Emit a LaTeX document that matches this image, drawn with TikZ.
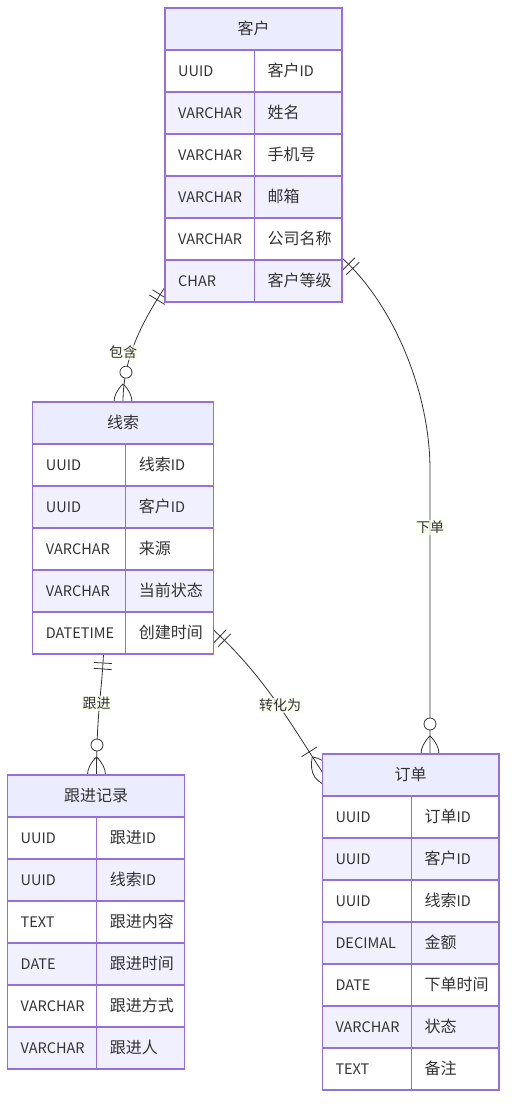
\documentclass[tikz,border=0pt]{standalone}
\usepackage{fontspec}
\setmainfont{Noto Sans CJK SC}
\usetikzlibrary{decorations.markings}

\definecolor{erborder}{HTML}{9370DB}
\definecolor{erhead}{HTML}{ECECFF}
\definecolor{errow}{HTML}{F1F0FF}
\definecolor{ertextc}{HTML}{333333}
\definecolor{relc}{HTML}{333333}
\definecolor{lblbg}{HTML}{F9FFEC}

\pgfdeclarelayer{bg}
\pgfsetlayers{bg,main}

% Latin runs are set a little smaller than the ideographs
\newcommand{\latn}[1]{{\fontsize{14.5pt}{17pt}\selectfont #1}}

\tikzset{
  ercell/.style={draw=erborder, line width=1.2pt},
  ertext/.style={inner sep=0pt, text=ertextc, font=\fontsize{16pt}{19pt}\selectfont},
  relline/.style={draw=relc, line width=0.8pt},
  rellabel/.style={inner sep=0.5pt, fill=lblbg, fill opacity=0.7, text opacity=1,
    text=ertextc, font=\fontsize{14pt}{17pt}\selectfont, text height=12.3pt, text depth=1.7pt},
  % exactly one: two bars near the start of the connector
  one start/.style={postaction={decorate, decoration={markings,
      mark=at position 9pt with {\draw[relline] (0pt,-9pt) -- (0pt,9pt);},
      mark=at position 15pt with {\draw[relline] (0pt,-9pt) -- (0pt,9pt);}}}},
  % zero or more: ring plus crow's foot at the end
  zero many end/.style={postaction={decorate, decoration={markings,
      mark=at position -30pt with {\draw[relline, fill=white] (0pt,0pt) circle [radius=6pt];},
      mark=at position -0.1pt with {\draw[relline] (-18pt,0pt) .. controls (-6pt,12pt) and (6pt,12pt) .. (18pt,0pt)
          .. controls (6pt,-12pt) and (-6pt,-12pt) .. (-18pt,0pt);}}}},
  % one or more: bar plus crow's foot at the end
  one many end/.style={postaction={decorate, decoration={markings,
      mark=at position -24pt with {\draw[relline] (0pt,-9pt) -- (0pt,9pt);},
      mark=at position -0.1pt with {\draw[relline] (-18pt,0pt) .. controls (-6pt,12pt) and (6pt,12pt) .. (18pt,0pt)
          .. controls (6pt,-12pt) and (-6pt,-12pt) .. (-18pt,0pt);}}}},
}

% #1 node name, #2 left, #3 top, #4 width, #5 type column width, #6 title, #7 type/name rows
\newcommand{\erentity}[7]{%
  \foreach \ty/\nm [count=\i] in {#7} {
    \pgfmathsetmacro\rt{#3+42+42*(\i-1)}
    \pgfmathsetmacro\rc{\rt+21}
    \ifodd\i \def\rowfill{white}\else\def\rowfill{errow}\fi
    \draw[ercell, fill=\rowfill] (#2,\rt) rectangle ++(#5,42);
    \draw[ercell, fill=\rowfill] (#2+#5,\rt) rectangle ++(#4-#5,42);
    \node[ertext, anchor=base west] at (#2+13,\rc+5.5) {\latn{\ty}};
    \node[ertext, anchor=base west] at (#2+#5+13,\rc+5.5) {\nm};
    \xdef\ernrows{\i}
  }
  \draw[ercell, fill=erhead] (#2,#3) rectangle ++(#4,42);
  \node[ertext, anchor=base] at (#2+#4/2,#3+21+5.5) {#6};
  \node[inner sep=0pt, outer sep=0pt, minimum width=#4pt,
        minimum height=42pt*(1+\ernrows), anchor=north west] (#1) at (#2,#3) {};
}

\begin{document}
\begin{tikzpicture}[x=1pt, y=-1pt]
\useasboundingbox (0,0) rectangle (515,1116);

\erentity{kehu}{165}{8}{177}{89.3}{客户}{UUID/客户\latn{ID}, VARCHAR/姓名, VARCHAR/手机号, VARCHAR/邮箱, VARCHAR/公司名称, CHAR/客户等级}
\erentity{xiansuo}{32.7}{402}{180.8}{93}{线索}{UUID/线索\latn{ID}, UUID/客户\latn{ID}, VARCHAR/来源, VARCHAR/当前状态, DATETIME/创建时间}
\erentity{genjin}{7.5}{775}{177}{89.2}{跟进记录}{UUID/跟进\latn{ID}, UUID/线索\latn{ID}, TEXT/跟进内容, DATE/跟进时间, VARCHAR/跟进方式, VARCHAR/跟进人}
\erentity{dingdan}{322.3}{754}{176.7}{89}{订单}{UUID/订单\latn{ID}, UUID/客户\latn{ID}, UUID/线索\latn{ID}, DECIMAL/金额, DATE/下单时间, VARCHAR/状态, TEXT/备注}

\begin{pgfonlayer}{bg}
  % 客户 ||--o{ 线索
  \draw[relline, one start, zero many end] ([yshift=15pt]kehu.south west)
    .. controls +(-20,31) and +(0,-47) .. ([xshift=90.3pt]xiansuo.north west);
  % 客户 ||--o{ 订单
  \draw[relline, one start, zero many end] ([yshift=44pt]kehu.south east)
    .. controls +(50,45) and +(0,-80) .. (430,470) -- ([xshift=107.7pt]dingdan.north west);
  % 线索 ||--o{ 跟进记录
  \draw[relline, one start, zero many end] ([xshift=70.8pt]xiansuo.south west)
    .. controls +(-2,40) and +(0,-60) .. ([xshift=89pt]genjin.north west);
  % 线索 ||--|{ 订单
  \draw[relline, one start, one many end] ([yshift=24pt]xiansuo.south east)
    .. controls +(51.8,46.9) and +(-27.5,-41.5) .. ([yshift=-18pt]dingdan.north west);
\end{pgfonlayer}

\node[rellabel] (lbl1) at (123,352) {包含};
\node[rellabel] (lbl2) at (430,527) {下单};
\node[rellabel] (lbl3) at (96.5,703) {跟进};
\node[rellabel] (lbl4) at (280,705) {转化为};
\end{tikzpicture}
\end{document}
